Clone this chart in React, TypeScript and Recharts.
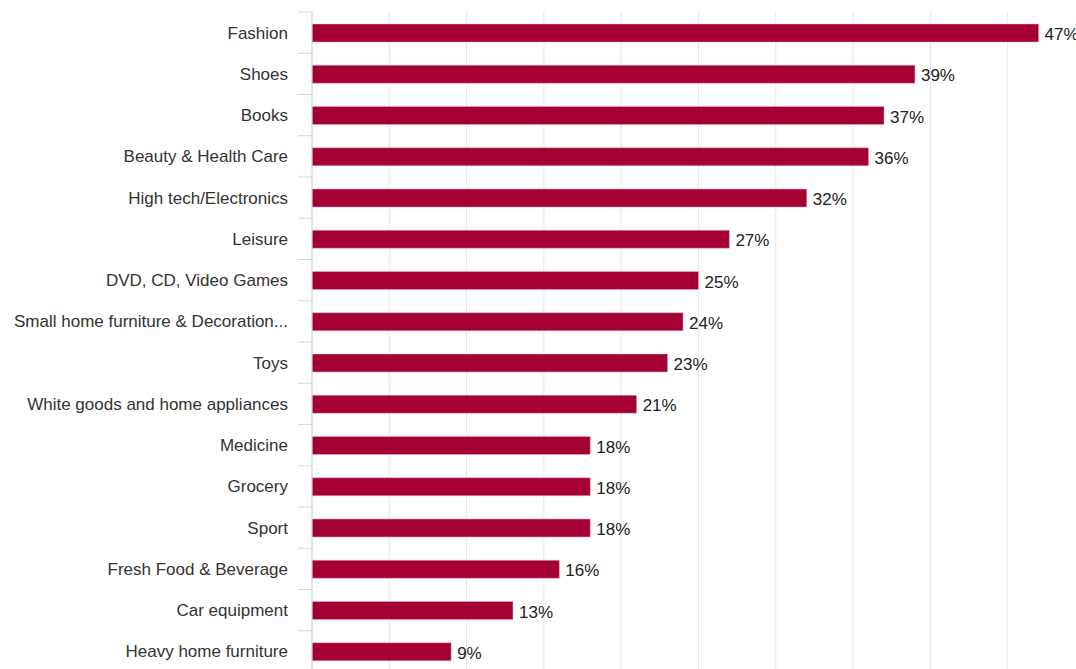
import { BarChart, Bar, XAxis, YAxis, CartesianGrid, LabelList } from "recharts";

const categories = [
    "Fashion",
    "Shoes",
    "Books",
    "Beauty & Health Care",
    "High tech/Electronics",
    "Leisure",
    "DVD, CD, Video Games",
    "Small home furniture & Decoration...",
    "Toys",
    "White goods and home appliances",
    "Medicine",
    "Grocery",
    "Sport",
    "Fresh Food & Beverage",
    "Car equipment",
    "Heavy home furniture",
];

const shares = [47, 39, 37, 36, 32, 27, 25, 24, 23, 21, 18, 18, 18, 16, 13, 9];

const xTicks = [0, 5, 10, 15, 20, 25, 30, 35, 40, 45, 50];

const data = categories.map((name, i) => ({ name, value: shares[i] }));

const WIDTH = 1100;
const HEIGHT = 680;
const MARGIN = { top: 12, right: 15, bottom: 8, left: 0 };
const AXIS_WIDTH = 312;
const FONT = "'Liberation Sans', Arial, Helvetica, sans-serif";

// band height, used to put the tick marks between categories
const band = (HEIGHT - MARGIN.top - MARGIN.bottom) / categories.length;

function CategoryTick(props: any) {
    const { x, y, payload } = props;
    const top = y - band / 2;
    return (
        <g>
            <line x1={x - 14} x2={x} y1={top} y2={top} stroke="#ccd6eb" strokeWidth={1} />
            <text x={x - 24} y={y} dy={6} textAnchor="end" fontSize={17} fill="#333" fontFamily={FONT}>
                {payload.value}
            </text>
        </g>
    );
}

function ValueLabel(props: any) {
    const { x, y, width, height, value } = props;
    return (
        <text x={x + width + 6} y={y + height / 2} dy={7} fontSize={17} fill="#222" fontFamily={FONT}>
            {`${value}%`}
        </text>
    );
}

export default function App() {
    return (
        <div style={{ position: "fixed", left: 0, top: 0, width: 1076, height: 669, overflow: "hidden", background: "#fff" }}>
            <BarChart width={WIDTH} height={HEIGHT} data={data} layout="vertical" margin={MARGIN}>
                <CartesianGrid horizontal={false} stroke="#e6e6e6" />
                <XAxis type="number" domain={[0, 50]} ticks={xTicks} hide />
                <YAxis
                    type="category"
                    dataKey="name"
                    width={AXIS_WIDTH}
                    axisLine={{ stroke: "#ccd6eb" }}
                    tickLine={false}
                    tickSize={0}
                    tickMargin={0}
                    tick={<CategoryTick />}
                    interval={0}
                />
                <Bar dataKey="value" fill="#a50034" stroke="#e9b3c3" strokeWidth={0.5} barSize={18} isAnimationActive={false}>
                    <LabelList dataKey="value" content={<ValueLabel />} />
                </Bar>
            </BarChart>
        </div>
    );
}
